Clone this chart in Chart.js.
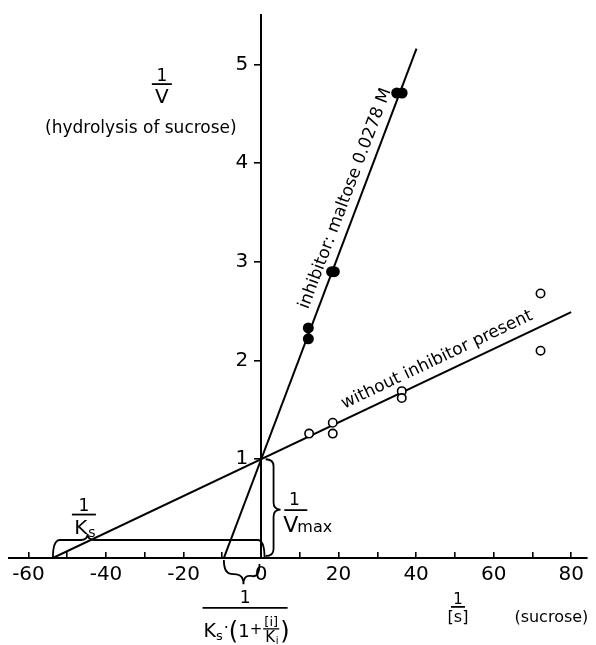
<!DOCTYPE html>
<html>
<head>
<meta charset="utf-8">
<script src="https://cdn.jsdelivr.net/npm/chart.js@4/dist/chart.umd.min.js"></script>
<style>
  html, body { margin: 0; padding: 0; background: #fff; }
  #box { width: 596px; height: 645px; }
</style>
</head>
<body>
<div id="box"><canvas id="plot"></canvas></div>
<script>
// 1/[s] and 1/v
var withInhX = [12.2, 12.2, 18.2, 18.9, 35.0, 36.4]
var withInhY = [2.33, 2.22, 2.90, 2.90, 4.71, 4.71]
var noInhX = [12.4, 18.5, 18.5, 36.3, 36.3, 72.1, 72.1]
var noInhY = [1.26, 1.37, 1.26, 1.69, 1.62, 2.68, 2.10]
// drawn lines, end points
var lineInhX = [-9.6, 40.1]
var lineInhY = [0, 5.16]
var lineNoX = [-53.7, 80]
var lineNoY = [0, 2.49]
var xLabels = [-60, -40, -20, 0, 20, 40, 60, 80]
var yLabels = [1, 2, 3, 4, 5]

var FONT = "'DejaVu Sans', sans-serif"

function pairs(xs, ys) {
	return xs.map((x, i) => ({ x: x, y: ys[i] }))
}

function brace(ctx, ax, ay, bx, by, nx, ny, depth, cuspT, tip) {
	var len = Math.hypot(bx - ax, by - ay)
	var tx = (bx - ax) / len, ty = (by - ay) / len
	var r = 7
	var cx = ax + tx * len * cuspT, cy = ay + ty * len * cuspT
	var dx = nx * depth, dy = ny * depth
	ctx.beginPath()
	ctx.moveTo(ax, ay)
	ctx.quadraticCurveTo(ax + dx, ay + dy, ax + dx + tx * r, ay + dy + ty * r)
	ctx.lineTo(cx + dx - tx * r, cy + dy - ty * r)
	ctx.quadraticCurveTo(cx + dx, cy + dy, cx + nx * (depth + tip), cy + ny * (depth + tip))
	ctx.quadraticCurveTo(cx + dx, cy + dy, cx + dx + tx * r, cy + dy + ty * r)
	ctx.lineTo(bx + dx - tx * r, by + dy - ty * r)
	ctx.quadraticCurveTo(bx + dx, by + dy, bx, by)
	ctx.stroke()
}

function textOnLine(ctx, text, xs, ys, at, gap, X, Y) {
	var x1 = X(xs[0]), y1 = Y(ys[0]), x2 = X(xs[1]), y2 = Y(ys[1])
	var t = (at - xs[0]) / (xs[1] - xs[0])
	ctx.save()
	ctx.translate(x1 + t * (x2 - x1), y1 + t * (y2 - y1))
	ctx.rotate(Math.atan2(y2 - y1, x2 - x1))
	ctx.textAlign = 'center'
	ctx.textBaseline = 'alphabetic'
	ctx.fillText(text, 0, -gap)
	ctx.restore()
}

function txt(ctx, s, x, y, size, align) {
	ctx.font = size + 'px ' + FONT
	ctx.textAlign = align || 'center'
	ctx.textBaseline = 'alphabetic'
	ctx.fillText(s, x, y)
	return ctx.measureText(s).width
}

function bar(ctx, x1, x2, y) {
	ctx.beginPath()
	ctx.moveTo(x1, y)
	ctx.lineTo(x2, y)
	ctx.stroke()
}

var annotations = {
	id: 'annotations',
	afterDraw(chart) {
		var ctx = chart.ctx
		var sx = chart.scales.x, sy = chart.scales.y
		var X = v => sx.getPixelForValue(v)
		var Y = v => sy.getPixelForValue(v)
		ctx.save()
		ctx.fillStyle = '#000'
		ctx.strokeStyle = '#000'
		ctx.lineWidth = 1.8

		// text along the lines
		ctx.font = '17px ' + FONT
		textOnLine(ctx, 'inhibitor: maltose 0.0278 M', lineInhX, lineInhY, 25, 9, X, Y)
		textOnLine(ctx, 'without inhibitor present', lineNoX, lineNoY, 47, 10, X, Y)

		// y axis title
		var cx = X(-25.6), ly = Y(4.80)
		txt(ctx, '1', cx, ly - 3, 17)
		bar(ctx, cx - 10, cx + 10, ly)
		txt(ctx, 'V', cx, ly + 19, 20)
		txt(ctx, '(hydrolysis of sucrose)', X(-31.0), Y(4.37) + 6, 17)

		// x axis title
		cx = X(50.8); ly = Y(-0.495)
		txt(ctx, '1', cx, ly - 3, 15)
		bar(ctx, cx - 7, cx + 7, ly)
		txt(ctx, '[s]', cx, ly + 15, 16)
		txt(ctx, '(sucrose)', X(74.9), Y(-0.585) + 6, 16)

		// 1/Ks brace and label
		brace(ctx, X(-53.7), Y(0), X(0.9), Y(0), 0, -1, 18, 0.164, 6)
		cx = X(-45.7); ly = Y(0.44)
		txt(ctx, '1', cx, ly - 4, 17)
		bar(ctx, cx - 12, cx + 12, ly)
		txt(ctx, 'K', cx - 3, ly + 19, 20)
		txt(ctx, 's', cx + 8, ly + 22, 14)

		// 1/Vmax brace and label
		brace(ctx, X(0) + 4.5, Y(1), X(0) + 4.5, Y(0) - 2, 1, 0, 8, 0.52, 7)
		var lx = X(6.0); ly = Y(0.485)
		txt(ctx, '1', lx + 10, ly - 5, 17)
		bar(ctx, lx, lx + 23, ly)
		txt(ctx, 'V', lx - 1, ly + 22, 22, 'left')
		txt(ctx, 'max', lx + 13, ly + 22, 16, 'left')

		// brace under the axis and 1/(Ks(1+[i]/Ki))
		brace(ctx, X(-9.6), Y(0) + 2, X(-0.4), Y(0) + 6, 0, 1, 13, 0.55, 9)
		lx = X(-15.1); ly = Y(-0.505)
		var x = lx + 1
		x += txt(ctx, 'K', x, ly + 29, 19, 'left')
		x += txt(ctx, 's', x, ly + 32, 13, 'left') + 1
		x += txt(ctx, '\u00b7', x, ly + 25, 16, 'left')
		x += txt(ctx, '(', x, ly + 31, 24, 'left')
		x += txt(ctx, '1', x, ly + 29, 18, 'left')
		x += txt(ctx, '+', x, ly + 26, 15, 'left') + 1
		var fx = x + 8
		txt(ctx, '[i]', fx, ly + 18, 13)
		txt(ctx, 'K', fx - 1, ly + 34, 15)
		txt(ctx, 'i', fx + 6, ly + 36, 10)
		ctx.lineWidth = 1.3
		bar(ctx, fx - 8, fx + 8, ly + 21)
		x = fx + 9
		x += txt(ctx, ')', x, ly + 31, 24, 'left')
		ctx.lineWidth = 1.8
		bar(ctx, lx, x - 2, ly)
		txt(ctx, '1', (lx + x - 2) / 2, ly - 5, 17)
		ctx.restore()
	}
}

function makeChart() {
	var config = {
		type: 'scatter',
		data: {
			datasets: [{
				data: pairs(withInhX, withInhY),
				pointRadius: 5.5,
				pointBackgroundColor: '#000',
				pointBorderWidth: 0,
				order: 1
			}, {
				data: pairs(noInhX, noInhY),
				pointRadius: 4.2,
				pointBackgroundColor: '#fff',
				pointBorderColor: '#000',
				pointBorderWidth: 1.6,
				order: 1
			}, {
				data: pairs(lineInhX, lineInhY),
				showLine: true,
				borderColor: '#000',
				borderWidth: 2,
				pointRadius: 0,
				order: 2
			}, {
				data: pairs(lineNoX, lineNoY),
				showLine: true,
				borderColor: '#000',
				borderWidth: 2,
				pointRadius: 0,
				order: 2
			}]
		},
		options: {
			responsive: true,
			maintainAspectRatio: false,
			animation: false,
			layout: { padding: { left: 8, right: 2, top: 13, bottom: 87 } },
			plugins: {
				legend: { display: false },
				tooltip: { enabled: false }
			},
			scales: {
				x: {
					type: 'linear',
					position: { y: 0 },
					min: -65,
					max: 84,
					border: { display: true, color: '#000', width: 2 },
					grid: { drawOnChartArea: false, drawTicks: true, tickLength: -7, color: '#000', lineWidth: 1.6 },
					ticks: {
						stepSize: 10,
						includeBounds: false,
						padding: 12,
						maxRotation: 0,
						autoSkip: false,
						color: '#000',
						font: { family: FONT, size: 20 },
						callback: v => xLabels.includes(v) ? String(v) : ''
					}
				},
				y: {
					type: 'linear',
					position: { x: 0 },
					min: 0,
					max: 5.5,
					border: { display: true, color: '#000', width: 2 },
					grid: { drawOnChartArea: false, drawTicks: true, tickLength: 6, color: '#000', lineWidth: 1.6 },
					ticks: {
						stepSize: 1,
						includeBounds: false,
						autoSkip: false,
						color: '#000',
						font: { family: FONT, size: 20 },
						callback: v => yLabels.includes(v) ? v + '  ' : ''
					}
				}
			}
		},
		plugins: [annotations]
	}
	var ctx = document.getElementById('plot').getContext('2d')
	window.lbChart = new Chart(ctx, config)
}

makeChart()
</script>
</body>
</html>
